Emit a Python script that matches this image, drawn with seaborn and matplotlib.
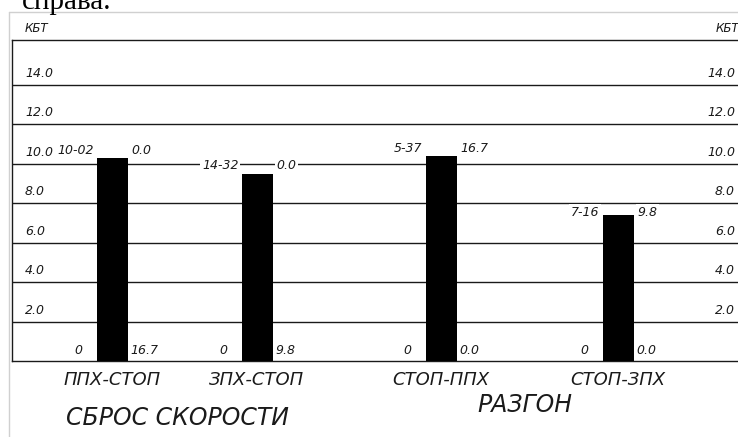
import matplotlib
matplotlib.use("Agg")
import matplotlib.pyplot as plt
import seaborn as sns
import pandas as pd

# ---------------- data ----------------
categories = ["ППХ-СТОП", "ЗПХ-СТОП", "СТОП-ППХ", "СТОП-ЗПХ"]
values = [10.3, 9.5, 10.4, 7.4]
time_labels = ["10-02", "14-32", "5-37", "7-16"]
top_right = ["0.0", "0.0", "16.7", "9.8"]
bottom_left = ["0", "0", "0", "0"]
bottom_right = ["16.7", "9.8", "0.0", "0.0"]
groups = ["СБРОС СКОРОСТИ", "РАЗГОН"]
yticks = [2, 4, 6, 8, 10, 12, 14]
ytick_labels = ["2.0", "4.0", "6.0", "8.0", "10.0", "12.0", "14.0"]
unit = "КБТ"

# ---------------- layout ----------------
W, H = 738, 437
bar_pos = [112, 257, 441, 618]          # x positions in pixel units
group_pos = [177, 525]
label_off = [0.4, 0.4, 0.4, 0.15]
px_per_unit = (361 - 85) / 14.0
ymax = (361 - 40) / px_per_unit

sns.set_theme(style="white")
plt.rcParams["font.family"] = ["DejaVu Sans"]
fnt = dict(family="DejaVu Sans", style="italic", color="#1a1a1a")

fig = plt.figure(figsize=(W / 100, H / 100), dpi=100)
fig.patch.set_facecolor("white")
ax = fig.add_axes([12 / W, 1 - 361 / H, (W - 12) / W, (361 - 40) / H])

df = pd.DataFrame({"pos": bar_pos, "value": values, "cat": categories})
sns.barplot(data=df, x="pos", y="value", native_scale=True, color="black",
            saturation=1, width=31 / 145, ax=ax, zorder=3,
            edgecolor="black", linewidth=0)

ax.set_xlim(12, W)
ax.set_ylim(0, ymax)
ax.set_xlabel("")
ax.set_ylabel("")
ax.set_xticks([])
ax.set_yticks([])
ax.spines["right"].set_visible(False)
for s in ["left", "top", "bottom"]:
    ax.spines[s].set_color("#1a1a1a")
    ax.spines[s].set_linewidth(1.0)

for t, lab in zip(yticks, ytick_labels):
    ax.axhline(t, color="#1a1a1a", lw=1.0, zorder=1)
    ax.text(25, t + 0.25, lab, ha="left", va="bottom", fontsize=9, **fnt)
    ax.text(W - 3, t + 0.25, lab, ha="right", va="bottom", fontsize=9, **fnt)

bw = 31 / 2
box = dict(boxstyle="square,pad=0.15", fc="white", ec="none")
for x, v, tl, tr, bl, br, off in zip(bar_pos, values, time_labels, top_right,
                                       bottom_left, bottom_right, label_off):
    ax.text(x - bw - 3, v + off, tl, ha="right", va="center", fontsize=9,
            bbox=box, zorder=4, **fnt)
    ax.text(x + bw + 4, v + off, tr, ha="left", va="center", fontsize=9,
            bbox=box, zorder=4, **fnt)
    ax.text(x - bw - 14, 0.55, bl, ha="right", va="center", fontsize=9, **fnt)
    ax.text(x + bw + 3, 0.55, br, ha="left", va="center", fontsize=9, **fnt)

# category labels below axis
for x, c in zip(bar_pos, categories):
    ax.text(x, 1 - (380 - 40) / (361 - 40), c, transform=ax.get_xaxis_transform(),
            ha="center", va="center", fontsize=13, **fnt)

for x, g, yp in zip(group_pos, groups, [418, 405]):
    fig.text(x / W, 1 - yp / H, g, ha="center", va="center", fontsize=17, **fnt)

# unit labels
fig.text(25 / W, 1 - 29 / H, unit, ha="left", va="center", fontsize=8.5, **fnt)
fig.text(716 / W, 1 - 29 / H, unit, ha="left", va="center", fontsize=8.5, **fnt)

# scanned page border and clipped caption
fig.add_artist(plt.Line2D([9 / W, 9 / W], [0, 1 - 12 / H], color="#d0d0d0", lw=1.0))
fig.add_artist(plt.Line2D([9 / W, 1], [1 - 12 / H, 1 - 12 / H], color="#d0d0d0", lw=1.0))
fig.text(22 / W, 1 - 9 / H, "справа.", ha="left", va="baseline", fontsize=21,
         family="Liberation Serif", color="black")

fig.savefig("out.png", dpi=100)
